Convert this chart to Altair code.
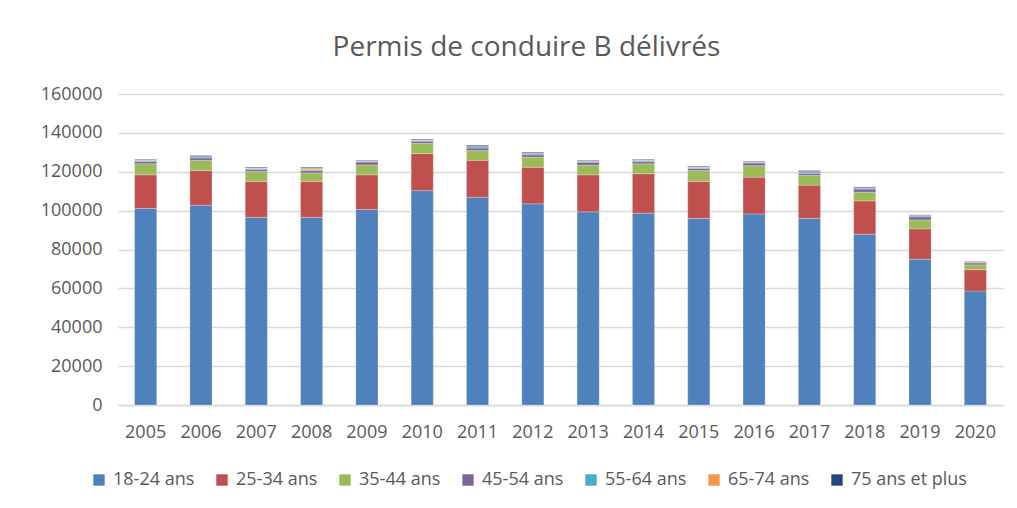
import altair as alt
import pandas as pd

years = [str(y) for y in range(2005, 2021)]
groups = ["18-24 ans", "25-34 ans", "35-44 ans", "45-54 ans", "55-64 ans", "65-74 ans", "75 ans et plus"]
colors = ["#4F81BD", "#C0504D", "#9BBB59", "#8064A2", "#4BACC6", "#F79646", "#1F497D"]

a18 = [101100, 102800, 96500, 96500, 100600, 110300, 106900, 103500, 99400, 98700, 96000, 98300, 96000, 87900, 75000, 58600]
a25 = [17300, 17800, 18500, 18500, 17800, 19100, 19000, 18800, 19000, 20300, 19000, 18900, 17100, 17100, 15600, 11000]
a35 = [5700, 5200, 5100, 4400, 5100, 5200, 5000, 5200, 5000, 5100, 5600, 5900, 5100, 4500, 4600, 2500]
a45 = [1200, 1300, 1000, 1200, 1500, 1100, 1300, 1200, 1500, 1100, 1100, 1400, 1000, 1600, 1600, 1000]
a55 = [600, 500, 600, 500, 400, 400, 600, 600, 500, 700, 500, 400, 700, 500, 500, 300]
a65 = [200, 200, 200, 800, 200, 200, 200, 200, 200, 200, 200, 200, 200, 200, 200, 400]
a75 = [300, 500, 400, 400, 300, 400, 600, 500, 300, 300, 400, 300, 500, 400, 300, 200]

series = [a18, a25, a35, a45, a55, a65, a75]
rows = []
for gi, (g, vals) in enumerate(zip(groups, series)):
    for y, v in zip(years, vals):
        rows.append({"year": y, "group": g, "value": v, "idx": gi})
df = pd.DataFrame(rows)

FONT = "Open Sans"
TXT = "#595959"
GRID = "#D9D9D9"

chart = alt.Chart(df).mark_bar(stroke="white", strokeWidth=0.4, strokeOpacity=0.6).encode(
    x=alt.X("year:O", title=None,
            scale=alt.Scale(paddingInner=0.6, paddingOuter=0.3),
            axis=alt.Axis(labelAngle=0, ticks=False, domainColor=GRID, domainWidth=1.5,
                          labelPadding=18, labelFontSize=18, labelColor=TXT, labelFont=FONT)),
    y=alt.Y("value:Q", title=None, stack="zero",
            scale=alt.Scale(domain=[0, 160000], nice=False),
            axis=alt.Axis(values=list(range(0, 160001, 20000)), format="d", ticks=False, domain=False,
                          gridColor=GRID, gridWidth=1.5, labelPadding=16, labelFontSize=18,
                          labelColor=TXT, labelFont=FONT)),
    color=alt.Color("group:N", scale=alt.Scale(domain=groups, range=colors), title=None,
                    legend=alt.Legend(orient="none", direction="horizontal", legendX=-28, legendY=377,
                                      symbolType="square", symbolSize=130, symbolStrokeWidth=0,
                                      labelFontSize=18, labelColor=TXT, labelFont=FONT,
                                      labelOffset=5, columnPadding=18, padding=0)),
    order=alt.Order("idx:Q", sort="ascending"),
).properties(
    width=885, height=311,
    title=alt.TitleParams("Permis de conduire B délivrés", fontSize=28, font=FONT, fontWeight="normal",
                          color=TXT, anchor="middle", frame="group", dx=-34, offset=23),
    autosize=alt.AutoSizeParams(type="none"),
    padding={"left": 110, "top": 86, "right": 6, "bottom": 90},
).configure_view(stroke=None).configure_axis(grid=True).configure_axisX(grid=False)

chart.save("out.html", embed_options={"renderer": "svg", "actions": False})
